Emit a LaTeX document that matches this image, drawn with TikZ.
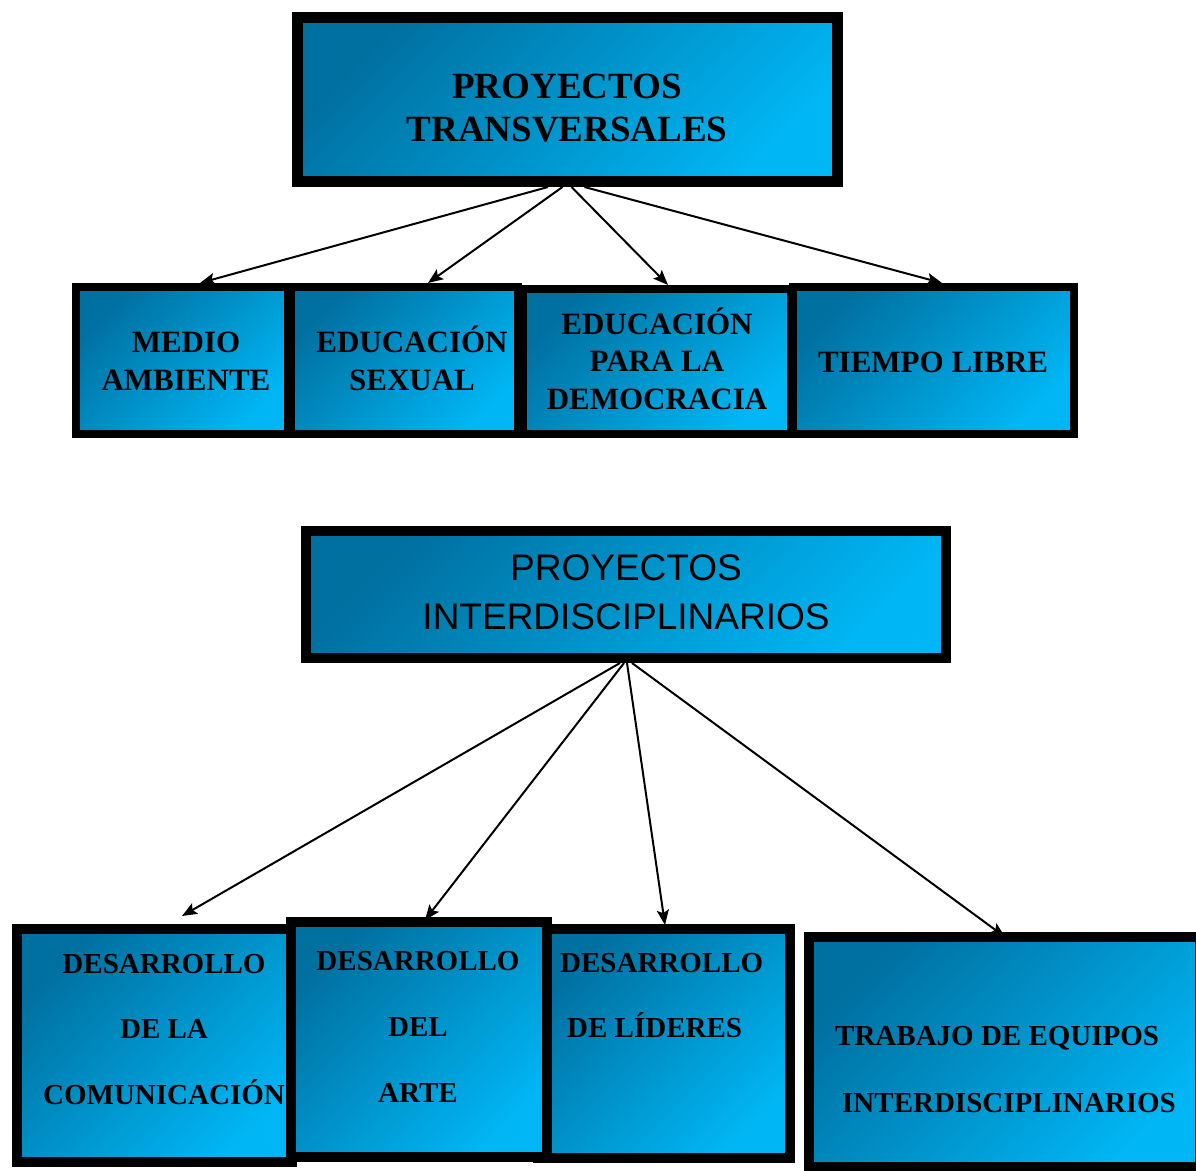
\documentclass[tikz,border=0pt]{standalone}
\usepackage{fontspec}
\setmainfont{Liberation Serif}
\newfontfamily\sansf{Liberation Sans}
\usetikzlibrary{arrows.meta}
\definecolor{bdark}{RGB}{0,112,160}
\definecolor{blight}{RGB}{0,182,244}
\begin{document}
\begin{tikzpicture}[x=1pt,y=-1pt,
  box/.style={draw=black, inner sep=0pt, top color=bdark, bottom color=blight, shading angle=45},
  arr/.style={-{Stealth[length=15pt,width=12pt,inset=3pt]}, line width=2pt},
  txt/.style={inner sep=0pt, align=center, text=black},
  bigserif/.style={txt, font=\bfseries\fontsize{37}{43}\selectfont},
  midserif/.style={txt, font=\bfseries\fontsize{31}{38}\selectfont},
  lowserif/.style={txt, font=\bfseries\fontsize{29}{65.5}\selectfont},
  bigsans/.style={txt, font=\sansf\fontsize{37}{49}\selectfont}
]
\useasboundingbox (0,0) rectangle (1196,1170);
\fill[white] (0,0) rectangle (1196,1170);

% top group
\node[box, line width=11pt, minimum width=540pt, minimum height=164pt] (t1) at (567.5,99.5) {};
\node[bigserif] (t1txt) at (567,108.5) {PROYECTOS\\TRANSVERSALES};

\node[box, line width=8pt, minimum width=212pt, minimum height=147pt] (m1) at (182,360.5) {};
\node[box, line width=8pt, minimum width=227pt, minimum height=147pt] (m2) at (404.5,360.5) {};
\node[box, line width=8pt, minimum width=268pt, minimum height=145pt] (m3) at (657,361.5) {};
\node[box, line width=8pt, minimum width=281pt, minimum height=147pt] (m4) at (933.5,360.5) {};

\node[midserif] (m1txt) at (186,361) {MEDIO\\AMBIENTE};
\node[midserif] (m2txt) at (412,361) {EDUCACI\smash{Ó}N\\SEXUAL};
\node[midserif, font=\bfseries\fontsize{31}{37.5}\selectfont] (m3txt) at (657,361.5) {EDUCACI\smash{Ó}N\\PARA LA\\DEMOCRACIA};
\node[midserif] (m4txt) at (933,362) {TIEMPO LIBRE};

\draw[arr] ([xshift=-19.5pt]t1.south) -- ([xshift=18pt]m1.north);
\draw[arr] ([xshift=-5pt]t1.south) -- ([xshift=23.5pt]m2.north);
\draw[arr] ([xshift=4pt]t1.south) -- ([xshift=11pt]m3.north);
\draw[arr] ([xshift=17pt]t1.south) -- ([xshift=8.5pt]m4.north);

% bottom group
\node[box, line width=10pt, minimum width=640pt, minimum height=127pt] (t2) at (626,594.5) {};
\node[bigsans] (t2txt) at (626,592.5) {PROYECTOS\\INTERDISCIPLINARIOS};

\node[box, line width=10pt, minimum width=275pt, minimum height=233pt] (b1) at (154.5,1045.5) {};
\node[box, line width=10pt, minimum width=252pt, minimum height=229pt] (b3) at (664,1043.5) {};
\node[box, line width=10pt, minimum width=256pt, minimum height=235pt] (b2) at (419,1039.5) {};
\node[box, line width=10pt, minimum width=391pt, minimum height=230pt] (b4) at (1004.5,1052) {};

\node[lowserif] (b1txt) at (164,1029.5) {DESARROLLO\\DE LA\\COMUNICACI\smash{Ó}N};
\node[lowserif, font=\bfseries\fontsize{29}{66}\selectfont] (b2txt) at (418,1027) {DESARROLLO\\DEL\\ARTE};
\node[lowserif, align=left, anchor=west, font=\bfseries\fontsize{29}{65}\selectfont] (b3txt) at (560,995.5) {DESARROLLO\\\hspace*{7pt}DE L\smash{Í}DERES};
\node[lowserif, align=left, anchor=west, font=\bfseries\fontsize{29}{67}\selectfont] (b4txt) at (835,1069.5) {TRABAJO DE EQUIPOS\\\hspace*{7pt}INTERDISCIPLINARIOS};

\draw[arr] ([xshift=-6pt]t2.south) -- ([xshift=27.5pt,yshift=8pt]b1.north);
\draw[arr] ([xshift=-2pt]t2.south) -- ([xshift=6pt,yshift=-3pt]b2.north);
\draw[arr] ([xshift=1pt]t2.south) -- ([xshift=1pt,yshift=-1pt]b3.north);
\draw[arr] ([xshift=6pt]t2.south) -- ([xshift=0.5pt,yshift=-5pt]b4.north);
\end{tikzpicture}
\end{document}
